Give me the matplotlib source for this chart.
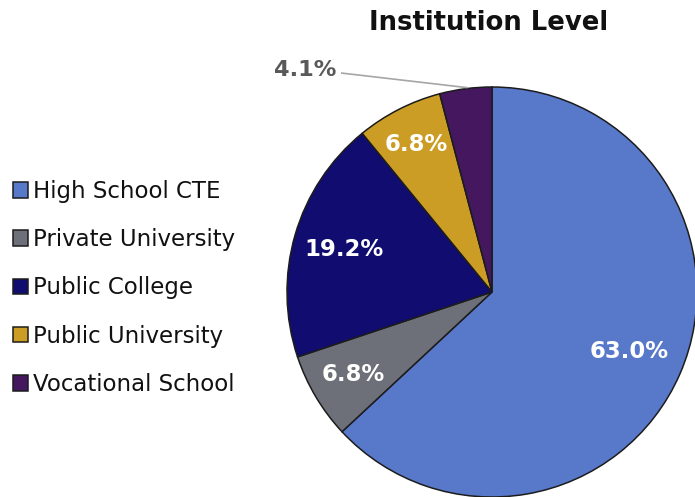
import numpy as np
import matplotlib.pyplot as plt

# Institution level shares (percent)
categories = ['High School CTE', 'Private University', 'Public College',
              'Public University', 'Vocational School']
shares = [63.0, 6.8, 19.2, 6.8, 4.1]
colors = ['#5878CA', '#6E7079', '#100C70', '#CC9D24', '#45175F']

plt.rcParams['font.family'] = ['DejaVu Sans']

W, H = 695, 497
fig = plt.figure(figsize=(W / 100, H / 100), dpi=100)
ax = fig.add_axes([0, 0, 1, 1])

# work in pixel units so the pie sits where it should
cx, cy, r = 492, H - 292, 205
wedges, _ = ax.pie(shares, colors=colors, startangle=90, counterclock=False,
                   center=(cx, cy), radius=r,
                   wedgeprops=dict(edgecolor='#1c1c1c', linewidth=1.1))
ax.set_xlim(0, W)
ax.set_ylim(0, H)
ax.set_aspect('equal')
ax.axis('off')

# inside labels
label_dist = [0.73, 0.79, 0.75, 0.81]
for w, val, d in zip(wedges[:4], shares[:4], label_dist):
    mid = np.deg2rad((w.theta1 + w.theta2) / 2)
    ax.text(cx + d * r * np.cos(mid), cy + d * r * np.sin(mid), f'{val:.1f}%',
            color='white', fontsize=16.4, fontweight='bold',
            ha='center', va='center')

# small slice labelled outside with a leader line
w = wedges[4]
mid = np.deg2rad((w.theta1 + w.theta2) / 2)
ex, ey = cx + r * np.cos(mid), cy + r * np.sin(mid)
ax.plot([341, ex + 2], [H - 73, ey + 1], color='#a6a6a6', lw=1.2,
        solid_capstyle='butt')
ax.text(305, H - 70, f'{shares[4]:.1f}%', color='#595959', fontsize=16.2,
        fontweight='bold', ha='center', va='center')

ax.text(489, H - 23, 'Institution Level', fontsize=18.6, fontweight='bold',
        color='#111111', ha='center', va='center')

fig.legend(wedges, categories, loc='upper left', bbox_to_anchor=(13 / W, 1 - 180 / H),
           frameon=False, fontsize=16.5, handlelength=0.66, handleheight=0.66,
           handletextpad=0.22, labelspacing=1.1, borderaxespad=0, borderpad=0,
           labelcolor='#111111')

fig.savefig('out.png', dpi=100)
